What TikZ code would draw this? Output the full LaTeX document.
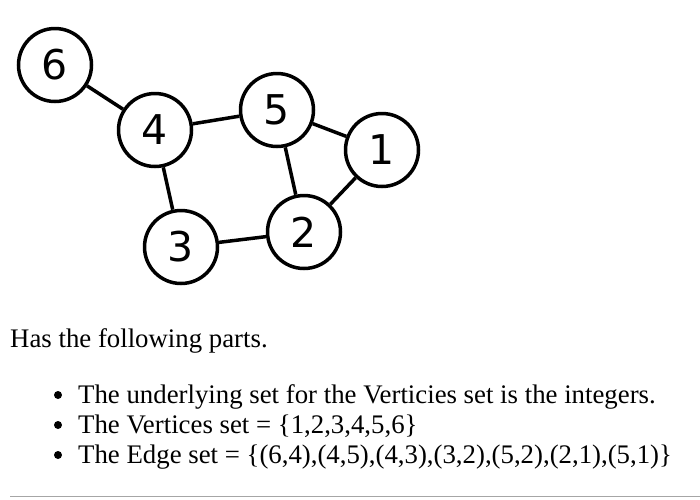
\documentclass[tikz,border=0pt]{standalone}
\usepackage{fontspec}
\setmainfont{Liberation Serif}
\newfontfamily\vfont{DejaVu Sans}
\begin{document}
\begin{tikzpicture}[x=1pt,y=-1pt,
  vert/.style={circle,draw,line width=3.5pt,minimum size=73pt,inner sep=0pt,font=\vfont\fontsize{41}{41}\selectfont},
  edge/.style={line width=3.5pt},
  txt/.style={anchor=base west,inner sep=0pt,font=\fontsize{26.8}{26.8}\selectfont}]
\useasboundingbox (0,0) rectangle (700,499);
\node[vert] (n6) at (55,65) {6};
\node[vert] (n4) at (155,130) {4};
\node[vert] (n5) at (277,110) {5};
\node[vert] (n1) at (382,150) {1};
\node[vert] (n2) at (304,232) {2};
\node[vert] (n3) at (181,247) {3};
\draw[edge] (n6) -- (n4);
\draw[edge] (n4) -- (n5);
\draw[edge] (n4) -- (n3);
\draw[edge] (n3) -- (n2);
\draw[edge] (n5) -- (n2);
\draw[edge] (n2) -- (n1);
\draw[edge] (n5) -- (n1);
\node[txt] (t0) at (10,347) {Has the following parts.};
\node[txt] (t1) at (78,403) {The underlying set for the Verticies set is the integers.};
\node[txt] (t2) at (78,433) {The Vertices set = \{1,2,3,4,5,6\}};
\node[txt] (t3) at (78,463) {The Edge set = \{(6,4),(4,5),(4,3),(3,2),(5,2),(2,1),(5,1)\}};
\foreach \i/\yy in {1/395,2/425,3/455} \fill (58,\yy) circle (4pt);
\coordinate (l0) at (10,496.5);
\coordinate (l1) at (700,496.5);
\draw[line width=1.5pt,gray!70] (l0) -- (l1);
\end{tikzpicture}
\end{document}
